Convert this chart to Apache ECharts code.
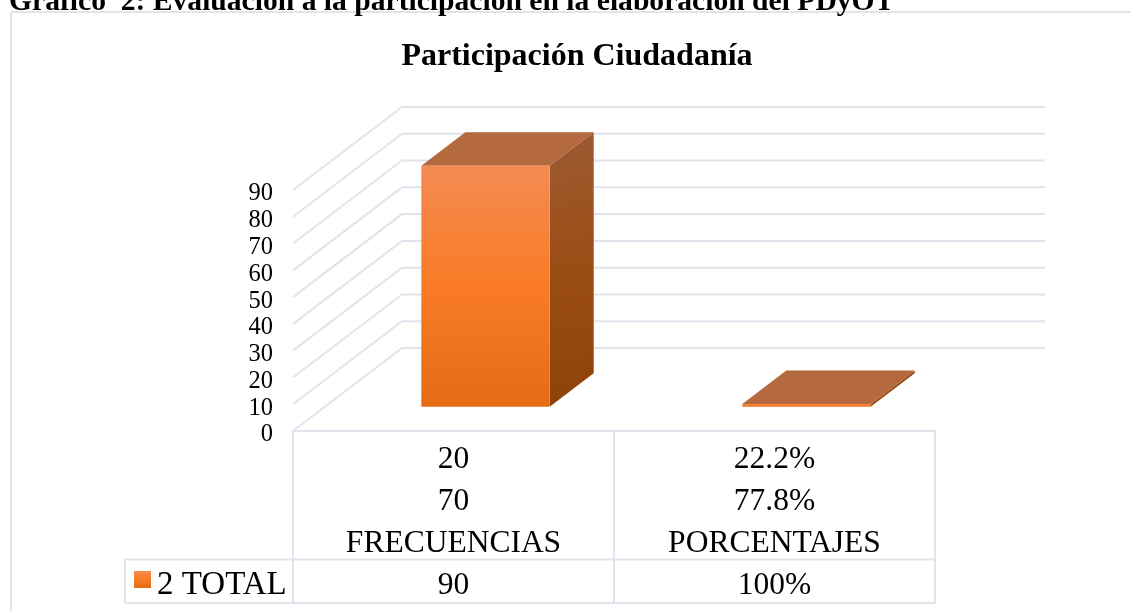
<!DOCTYPE html>
<html>
<head>
<meta charset="utf-8">
<style>html,body{margin:0;padding:0;background:#fff}#c{width:1131px;height:611px}</style>
<script src="https://cdn.jsdelivr.net/npm/echarts@6/dist/echarts.min.js"></script>
</head>
<body>
<div id="c"></div>
<script>
const heading = 'Gráfico  2: Evaluación a la participación en la elaboración del PDyOT';
const chartTitle = 'Participación Ciudadanía';
const seriesName = '2 TOTAL';
const categories = ['FRECUENCIAS', 'PORCENTAJES'];
const row1 = ['20', '22.2%'];
const row2 = ['70', '77.8%'];
const row4 = ['90', '100%'];
const values = [90, 1];
const yTicks = [0, 10, 20, 30, 40, 50, 60, 70, 80, 90];

const FONT = '"Liberation Serif","Times New Roman",serif';
const LINE = '#e0e4ec';
const DX = 109, DY = 83;      // floor depth of the box
const BX = 32, BY = 24.3;     // bar front inset
const BDX = 44, BDY = 33.4;   // bar depth
const GL = 293, GR = 935, GT = 190, GB = 431;

function linear(x0, y0, x1, y1, stops) {
  return new echarts.graphic.LinearGradient(x0, y0, x1, y1,
    stops.map(s => ({ offset: s[0], color: s[1] })));
}
function poly(points, fill, extra) {
  return Object.assign({ type: 'polygon', shape: { points }, style: { fill } }, extra || {});
}

const chart = echarts.init(document.getElementById('c'), null, { renderer: 'canvas' });
chart.setOption({
  animation: false,
  backgroundColor: '#fff',
  title: [
    { text: heading, left: 4, top: -18, textStyle: { fontFamily: FONT, fontWeight: 'bold', fontSize: 29.6, color: '#000' } },
    { text: chartTitle, left: 572, textAlign: 'center', top: 36, textStyle: { fontFamily: FONT, fontWeight: 'bold', fontSize: 32, color: '#000' } }
  ],
  legend: {
    data: [seriesName], left: 134, top: 569, itemWidth: 17, itemHeight: 17, itemGap: 0,
    icon: 'rect', padding: 0, selectedMode: false,
    formatter: '{t|{name}}',
    textStyle: { fontFamily: FONT, color: '#000',
      rich: { t: { fontFamily: FONT, fontSize: 33, color: '#000', padding: [12, 0, 0, 1] } } }
  },
  grid: { left: GL, right: 1131 - GR, top: GT, bottom: 611 - GB, containLabel: false },
  xAxis: {
    type: 'category', data: categories,
    axisLine: { show: true, lineStyle: { color: LINE, width: 2 } },
    axisTick: { show: true, length: 172, lineStyle: { color: LINE, width: 2 } },
    splitLine: { show: false },
    axisLabel: {
      margin: 7.5, fontFamily: FONT, fontSize: 31.5, lineHeight: 42, color: '#000',
      formatter: (v, i) => [row1[i], row2[i], v, row4[i]].join('\n')
    }
  },
  yAxis: {
    type: 'value', min: 0, max: 90, interval: 10,
    axisLine: { show: false }, axisTick: { show: false }, splitLine: { show: false },
    axisLabel: { margin: 20, fontFamily: FONT, fontSize: 24.5, color: '#000', verticalAlign: 'top', lineHeight: 8 }
  },
  graphic: [
    { type: 'line', shape: { x1: 11, y1: 12, x2: 1131, y2: 12 }, style: { stroke: LINE, lineWidth: 2 }, z: 1 },
    { type: 'line', shape: { x1: 11, y1: 12, x2: 11, y2: 611 }, style: { stroke: LINE, lineWidth: 2 }, z: 1 },
    { type: 'line', shape: { x1: 125, y1: 559.5, x2: GR + 1, y2: 559.5 }, style: { stroke: LINE, lineWidth: 2 }, z: 1 },
    { type: 'line', shape: { x1: 125, y1: 603, x2: GR + 1, y2: 603 }, style: { stroke: LINE, lineWidth: 2 }, z: 1 },
    { type: 'line', shape: { x1: 125, y1: 559.5, x2: 125, y2: 603 }, style: { stroke: LINE, lineWidth: 2 }, z: 1 }
  ],
  series: [
    {
      name: 'walls', type: 'custom', silent: true, z: 1, clip: false,
      encode: { y: 0 }, data: yTicks.map(v => [v]),
      renderItem(params, api) {
        const y = api.coord([0, api.value(0)])[1];
        return {
          type: 'polyline',
          shape: { points: [[GL, y], [GL + DX, y - DY], [GR + DX + 1, y - DY]] },
          style: { fill: 'none', stroke: LINE, lineWidth: 2 }
        };
      }
    },
    {
      name: seriesName, type: 'custom', z: 2, clip: false,
      itemStyle: { color: linear(0, 0, 0, 1, [[0, '#F58B53'], [0.5, '#F97B25'], [1, '#E56B14']]) },
      encode: { x: 0, y: 1 }, data: values.map((v, i) => [i, v]),
      renderItem(params, api) {
        const c = api.coord([api.value(0), api.value(1)]);
        const b = api.coord([api.value(0), 0]);
        const w = api.size([1, 0])[0] * 0.4;
        const l = c[0] + BX - w / 2, r = l + w, t = c[1] - BY, f = b[1] - BY;
        return {
          type: 'group',
          children: [
            poly([[r, t], [r + BDX, t - BDY], [r + BDX, f - BDY], [r, f]],
              linear(0, 0, 1, 1, [[0, '#9C5B33'], [0.45, '#9C4E17'], [1, '#8E4208']])),
            poly([[l, t], [l + BDX, t - BDY], [r + BDX, t - BDY], [r, t]], '#B5693F'),
            { type: 'rect', shape: { x: l, y: t, width: w, height: f - t },
              style: { fill: linear(0, 0, 0, 1, [[0, '#F58B53'], [0.5, '#F97B25'], [1, '#E56B14']]) } }
          ]
        };
      }
    }
  ]
});
</script>
</body>
</html>
